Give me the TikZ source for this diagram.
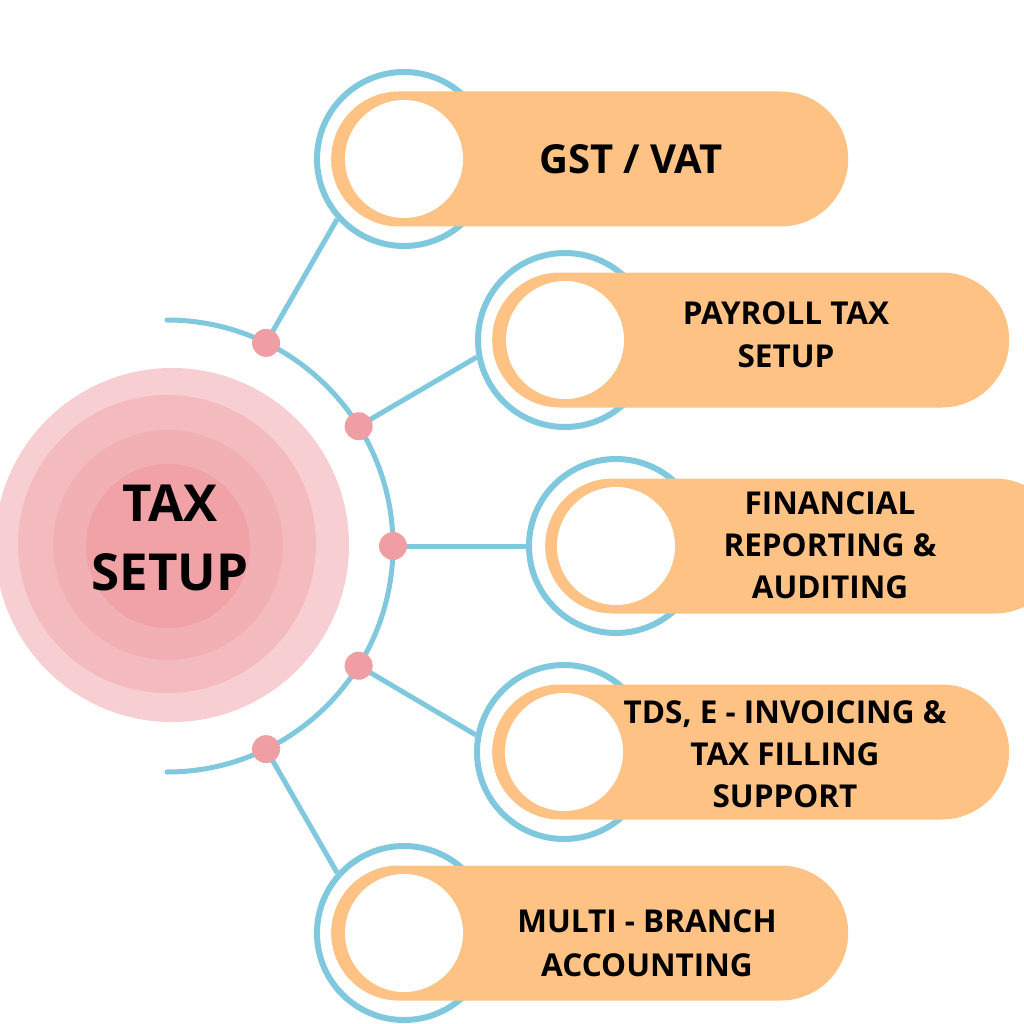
\documentclass[tikz,border=0pt]{standalone}
\usepackage{fontspec}
\setmainfont{Open Sans}
\usetikzlibrary{shapes.misc}
\definecolor{cblue}{HTML}{7FC8DE}
\definecolor{corange}{HTML}{FDC284}
\definecolor{cdot}{HTML}{EF9FA4}
\definecolor{pinkA}{HTML}{F7CFD2}
\definecolor{pinkB}{HTML}{F4BBBE}
\definecolor{pinkC}{HTML}{F2B0B4}
\definecolor{pinkD}{HTML}{F0A2A7}
\begin{document}
\begin{tikzpicture}[x=1pt,y=-1pt,
  ringc/.style={circle, draw=cblue, line width=6pt, minimum size=174pt, inner sep=0pt},
  pill/.style={rounded rectangle, fill=corange, minimum height=135pt, minimum width=517pt, inner sep=0pt, anchor=west},
  whitec/.style={circle, fill=white, minimum size=118pt, inner sep=0pt},
  dotc/.style={circle, fill=cdot, minimum size=28pt, inner sep=0pt},
  conn/.style={draw=cblue, line width=5pt},
  lbl/.style={align=center, font=\fontsize{31.5}{43}\selectfont\bfseries, text=black},
  ttl/.style={align=center, font=\fontsize{51}{69}\selectfont\bfseries, text=black}]
\useasboundingbox (0,0) rectangle (1024,1024);
\clip (0,0) rectangle (1024,1024);
\fill[white] (0,0) rectangle (1024,1024);
% central target
\fill[pinkA] (172,545) circle[radius=177];
\fill[pinkB] (167,544) circle[radius=149];
\fill[pinkC] (168,545) circle[radius=115];
\fill[pinkD] (168,546) circle[radius=82];
\node[ttl] (title) at (170,537.5) {TAX\\SETUP};
% rings
\node[ringc] (r1) at (404,159) {};
\node[ringc] (r2) at (565,340) {};
\node[ringc] (r3) at (616,546) {};
\node[ringc] (r4) at (564,752) {};
\node[ringc] (r5) at (404,933) {};
% dots positions
\coordinate (d1c) at ([shift={(167,546)}]-64:226);
\coordinate (d2c) at ([shift={(167,546)}]-32:226);
\coordinate (d3c) at ([shift={(167,546)}]0:226);
\coordinate (d4c) at ([shift={(167,546)}]32:226);
\coordinate (d5c) at ([shift={(167,546)}]64:226);
% connectors
\draw[conn] (d1c) -- (r1.222);
\draw[conn] (d2c) -- (r2.191);
\draw[conn] (d3c) -- (r3.180);
\draw[conn] (d4c) -- (r4.169);
\draw[conn] (d5c) -- (r5.138);
% arc
\draw[conn, line cap=round] (167,320) arc[start angle=-90, end angle=90, radius=226];
% dots
\node[dotc] (d1) at (d1c) {};
\node[dotc] (d2) at (d2c) {};
\node[dotc] (d3) at (d3c) {};
\node[dotc] (d4) at (d4c) {};
\node[dotc] (d5) at (d5c) {};
% pills
\node[pill] (p1) at (331,159) {};
\node[pill] (p2) at (492,340) {};
\node[pill] (p3) at (545,546) {};
\node[pill] (p4) at (492,752) {};
\node[pill] (p5) at (331,933) {};
% white circles
\node[whitec] (w1) at (404,159) {};
\node[whitec] (w2) at (565,340) {};
\node[whitec] (w3) at (616,546) {};
\node[whitec] (w4) at (564,752) {};
\node[whitec] (w5) at (404,933) {};
% labels
\node[lbl, font=\fontsize{40}{48}\selectfont\bfseries] (l1) at (631,159) {GST / VAT};
\node[lbl] (l2) at (786,334.5) {PAYROLL TAX\\SETUP};
\node[lbl, font=\fontsize{31.5}{42}\selectfont\bfseries] (l3) at (830,545) {FINANCIAL\\REPORTING \&\\AUDITING};
\node[lbl, font=\fontsize{31.5}{42}\selectfont\bfseries] (l4) at (785,754) {TDS, E - INVOICING \&\\TAX FILLING\\SUPPORT};
\node[lbl, font=\fontsize{31.5}{44}\selectfont\bfseries] (l5) at (647,943) {MULTI - BRANCH\\ACCOUNTING};
\end{tikzpicture}
\end{document}
